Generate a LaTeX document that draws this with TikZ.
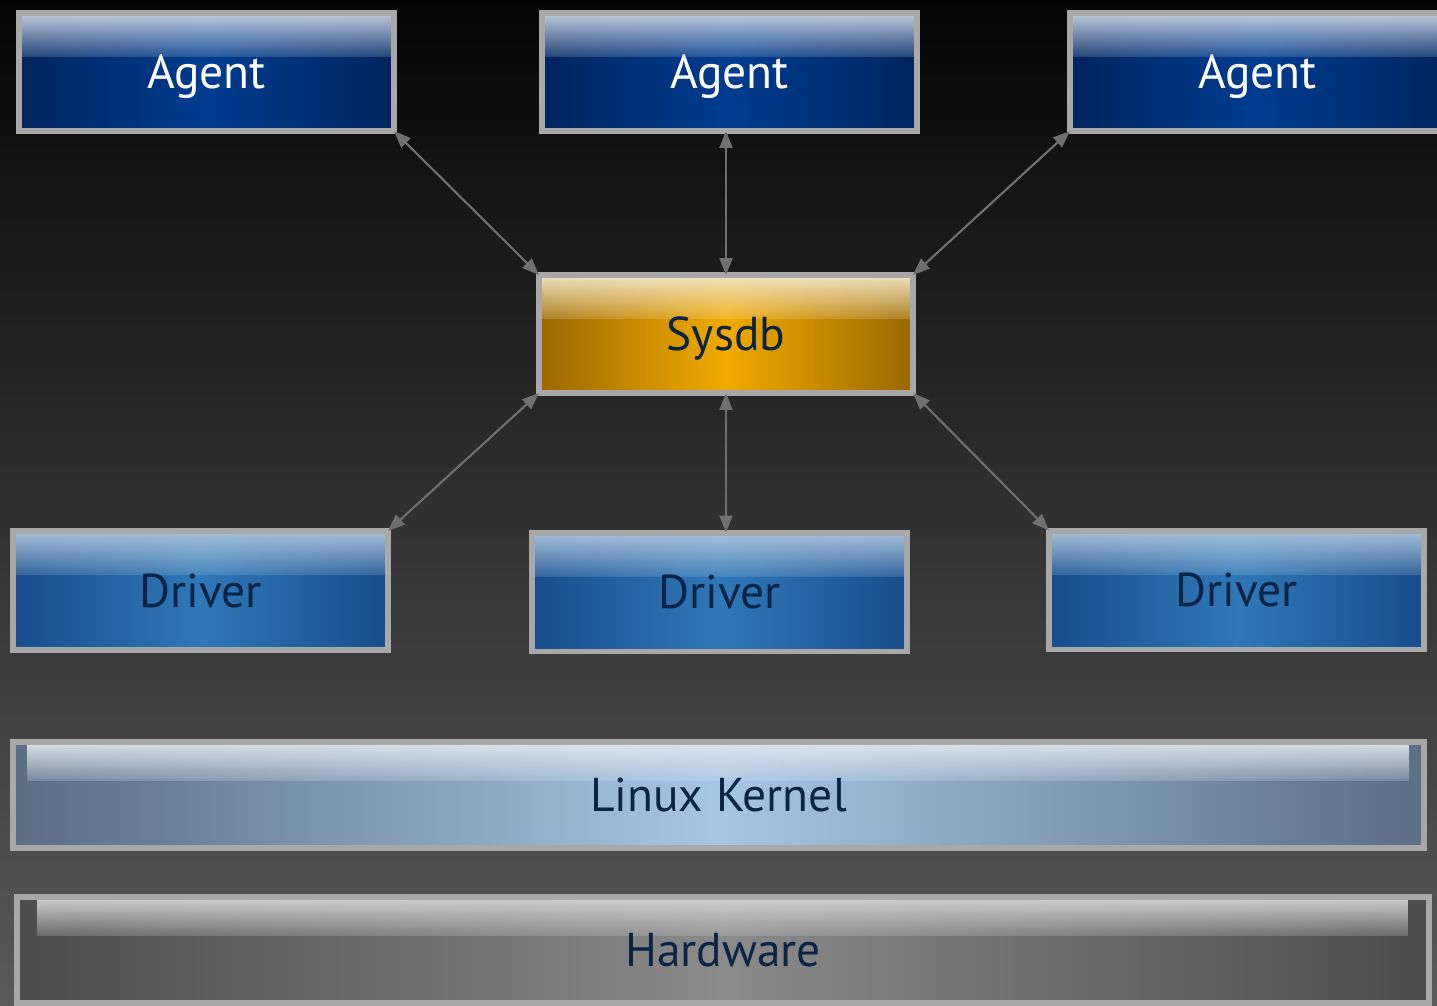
\documentclass[tikz,border=0pt]{standalone}
\usepackage{fontspec}
\setmainfont{PT Sans}
\usepackage{tikz}
\usetikzlibrary{arrows.meta,calc,fadings}
\definecolor{boxgray}{HTML}{A8A8A8}
\definecolor{arrowgray}{HTML}{707070}
\definecolor{bgtop}{HTML}{050505}
\definecolor{bgmid}{HTML}{262626}
\definecolor{bgbot}{HTML}{5A5A5A}
\definecolor{labelblue}{HTML}{0A2446}
\definecolor{agentEdge}{HTML}{00245E}
\definecolor{agentMid}{HTML}{003C90}
\definecolor{agentHi}{HTML}{C0CCDE}
\definecolor{sysEdge}{HTML}{9A6800}
\definecolor{sysMid}{HTML}{F2AA00}
\definecolor{sysHi}{HTML}{F0E2C2}
\definecolor{drvEdge}{HTML}{184C8C}
\definecolor{drvMid}{HTML}{3078B8}
\definecolor{drvHi}{HTML}{A8C2DA}
\definecolor{kerEdge}{HTML}{5A6E86}
\definecolor{kerMid}{HTML}{A6C6E6}
\definecolor{kerHi}{HTML}{DCE4EC}
\definecolor{hwEdge}{HTML}{4C4C4C}
\definecolor{hwMid}{HTML}{8A8A8A}
\definecolor{hwHi}{HTML}{D0D0D0}
\tikzfading[name=glossfade, top color=transparent!0, bottom color=transparent!80]
\tikzset{%
  >={Triangle[length=0.34cm,width=0.26cm]},
  % glossy fill: edge, middle, highlight, inset
     gloss/.style n args={4}{path picture={
       \shade[left color=#1, right color=#1, middle color=#2]
         (path picture bounding box.south west) rectangle
         (path picture bounding box.north east);
       \fill[#3, path fading=glossfade]
         ($(path picture bounding box.north west)+(#4,0)$) rectangle
         ($(path picture bounding box.north east)!0.37!(path picture bounding box.south east)+(-#4,0)$);
     }},
  % Specifications for style of nodes:
      base/.style = {rectangle, draw=boxgray, line width=3.4pt,
                     outer sep=0pt, inner sep=0pt, text centered,
                     text height=19pt, text depth=0pt,
                     font=\fontsize{27}{30}\selectfont},
     agent/.style = {base, minimum width=7.5cm, minimum height=2.36cm,
                     text=white, gloss={agentEdge}{agentMid}{agentHi}{0pt}},
    sysbox/.style = {base, minimum width=7.48cm, minimum height=2.36cm,
                     text=labelblue, gloss={sysEdge}{sysMid}{sysHi}{0pt}},
    driver/.style = {base, minimum width=7.5cm, minimum height=2.38cm,
                     text=labelblue, gloss={drvEdge}{drvMid}{drvHi}{0pt}},
     layer/.style = {base, minimum width=28.22cm, minimum height=2.12cm,
                     text=labelblue},
      link/.style = {<->, draw=arrowgray, fill=arrowgray, line width=1.2pt}
}
\begin{document}
\begin{tikzpicture}[x=0.02cm, y=0.02cm]
  \useasboundingbox (0,0) rectangle (1437,-1005);
  \shade[top color=bgtop, middle color=bgmid, bottom color=bgbot]
    (0,0) rectangle (1437,-1005);
  % Specification of nodes (position, etc.)
  \node (agentA)   [agent]  at (206.5,-72)  {Agent};
  \node (agentB)   [agent]  at (729.5,-72)  {Agent};
  \node (agentC)   [agent]  at (1257.5,-72) {Agent};
  \node (sysdb)    [sysbox] at (726,-334)   {Sysdb};
  \node (driverA)  [driver] at (200.5,-590.5) {Driver};
  \node (driverB)  [driver] at (719.5,-592) {Driver};
  \node (driverC)  [driver] at (1236.5,-590) {Driver};
  \node (kernel)   [layer, gloss={kerEdge}{kerMid}{kerHi}{0.28cm}]
                            at (718.5,-795) {Linux Kernel};
  \node (hardware) [layer, minimum width=28.24cm,
                    gloss={hwEdge}{hwMid}{hwHi}{0.4cm}]
                            at (723,-950)   {Hardware};

  \draw[link] (agentA.south east) -- (sysdb.north west);
  \draw[link] (sysdb.north) -- (sysdb.north |- agentB.south);
  \draw[link] (agentC.south west) -- (sysdb.north east);

  \draw[link] (sysdb.south west) -- (driverA.north east);
  \draw[link] (sysdb.south) -- (sysdb.south |- driverB.north);
  \draw[link] (sysdb.south east) -- (driverC.north west);
\end{tikzpicture}
\end{document}
